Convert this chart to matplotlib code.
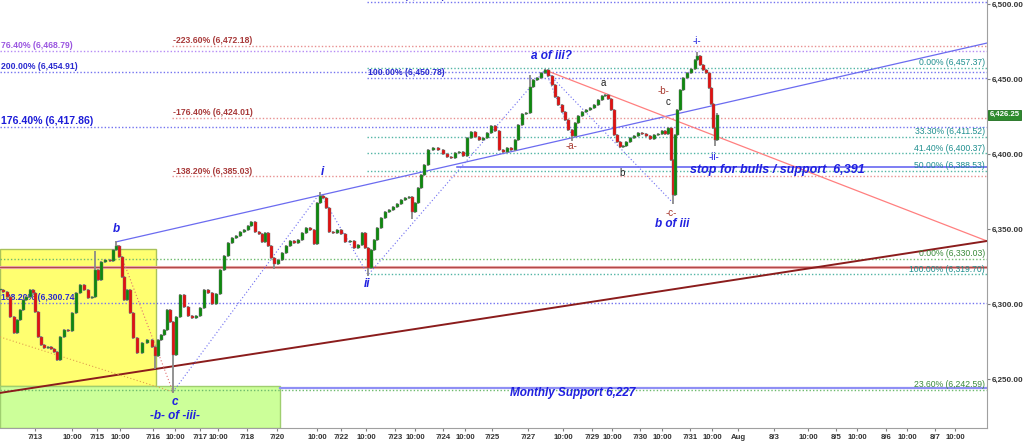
import matplotlib.pyplot as plt
from matplotlib.patches import Rectangle
from matplotlib.transforms import blended_transform_factory

plt.rcParams['font.family'] = ['Liberation Sans', 'DejaVu Sans']

# timeline in chart slots (sessions compressed), closing prices per bar
bar_t = [0, 3, 7, 10, 14, 17, 20, 23, 26, 30, 33, 35,
         38, 41, 44, 48, 51, 54, 57, 60, 64, 68, 72, 76, 80, 84, 88, 92, 95, 98,
         101, 105, 110, 113, 116, 119, 122, 124, 127, 130, 133, 137, 142, 147,
         152, 155, 158, 161, 164, 167, 170, 173, 176, 180, 184, 188, 192, 196,
         200, 204, 208, 212, 216, 220, 224, 228, 232, 236, 240, 244, 248, 251,
         255, 259, 262, 265, 268, 271, 274, 278, 282, 286, 290, 294, 298, 302,
         306, 310, 314, 317, 320, 323, 326, 329, 333, 337, 341, 345, 350, 354,
         358, 362, 365, 368, 371, 374, 377, 381, 385, 389, 393, 397, 401, 405,
         409, 412, 415, 418, 421, 424, 428, 433, 438, 443, 447, 451, 455, 459,
         463, 467, 471, 475, 479, 483, 487, 491, 495, 499, 503, 507, 511, 515,
         518, 522, 526,
         530, 533, 537, 541, 545, 548, 552, 555, 558, 562, 565, 568, 572, 575,
         578, 582, 586, 590, 594, 598, 602, 605, 608, 611, 614, 617, 620, 623,
         626, 630, 634, 638, 642, 646, 650, 654, 658, 662, 665, 668, 671, 673,
         675, 677, 680, 683, 687, 691, 695, 697, 700, 703, 706, 709, 711, 713,
         715, 717]
bar_close = [6309.4, 6308.0, 6304.7, 6291.4, 6280.7, 6289.4, 6296.0, 6302.7, 6304.7, 6309.4, 6307.4, 6294.7,
             6278.0, 6272.7, 6270.7, 6271.4, 6270.0, 6268.0, 6262.7, 6278.0, 6282.7, 6282.0, 6294.0, 6307.4,
             6312.7, 6309.4, 6304.0, 6304.7, 6322.7, 6316.0,
             6328.0, 6329.4, 6328.7, 6336.0, 6338.7, 6331.4, 6318.0, 6302.7, 6309.4, 6294.0, 6277.4, 6267.4,
             6274.0, 6276.0, 6271.4, 6265.4, 6276.0, 6279.4, 6282.7, 6296.0, 6288.0, 6266.0, 6291.4, 6306.0,
             6298.0, 6292.0, 6290.7, 6292.0, 6297.4, 6309.4, 6307.4, 6300.0, 6306.7, 6322.7, 6332.0, 6340.7,
             6344.0, 6345.4, 6348.0, 6349.4, 6352.0, 6354.7, 6348.0, 6346.7, 6341.4, 6347.4, 6338.7, 6330.7,
             6326.7, 6329.4, 6334.0, 6338.7, 6342.0, 6340.7, 6342.7, 6347.4, 6350.7, 6349.4, 6340.0, 6367.4,
             6372.0, 6370.7, 6364.0, 6348.0, 6347.4, 6349.4, 6346.7, 6341.4, 6342.0, 6337.4, 6339.4, 6347.4,
             6337.4, 6324.0, 6336.0, 6342.7, 6350.7, 6357.4, 6361.4, 6362.7, 6364.7, 6366.7, 6369.4, 6370.7,
             6371.4, 6361.4, 6367.4, 6377.4, 6386.0, 6392.7, 6402.7, 6404.0, 6402.7, 6400.0, 6398.0, 6397.4,
             6400.7, 6401.4, 6398.7, 6410.7, 6414.7, 6411.4, 6409.4, 6410.7, 6414.0, 6418.7, 6415.4, 6402.7,
             6401.4, 6404.0, 6402.7, 6409.4, 6419.4, 6426.7, 6427.4,
             6444.7, 6449.4, 6450.7, 6454.0, 6456.0, 6452.0, 6446.0, 6438.0, 6432.7, 6428.0, 6422.7, 6416.0,
             6412.0, 6420.7, 6425.4, 6428.0, 6429.4, 6430.7, 6432.7, 6436.0, 6438.7, 6439.4, 6436.7, 6429.4,
             6412.7, 6408.0, 6404.7, 6405.4, 6408.0, 6410.7, 6412.0, 6414.0, 6413.4, 6412.0, 6410.0, 6412.7,
             6413.4, 6415.4, 6413.4, 6417.4, 6396.0, 6372.7, 6412.7, 6429.4, 6442.7, 6450.7, 6454.0, 6456.7,
             6462.7, 6465.4, 6459.4, 6456.0, 6454.0, 6444.0, 6433.4, 6417.4, 6409.4, 6426.25]

# long wicks
high_t = [95, 116, 320, 530, 697]
high_p = [6334.7, 6341.4, 6374.0, 6452.0, 6467.0]
low_t = [155, 173, 274, 368, 412, 572, 673, 715]
low_p = [6257.4, 6241.4, 6324.0, 6319.4, 6357.4, 6409.4, 6367.4, 6406.0]

# fibonacci levels
fib_labels = ['161.80% (6,501.62)', '-223.60% (6,472.18)', '76.40% (6,468.79)', '0.00% (6,457.37)',
              '200.00% (6,454.91)', '100.00% (6,450.78)', '-176.40% (6,424.01)', '176.40% (6,417.86)',
              '33.30% (6,411.52)', '41.40% (6,400.37)', '50.00% (6,388.53)', '-138.20% (6,385.03)',
              '0.00% (6,330.03)', '100.00% (6,319.70)', '138.20% (6,300.74)', '23.60% (6,242.59)']
fib_values = [6501.62, 6472.18, 6468.79, 6457.37, 6454.91, 6450.78, 6424.01, 6417.86,
              6411.52, 6400.37, 6388.53, 6385.03, 6330.03, 6319.70, 6300.74, 6242.59]
fib_start = [367, 172, 0, 367, 0, 367, 172, 0, 367, 367, 367, 172, 0, 367, 0, 0]
fib_kind = ['blue', 'red', 'purple', 'teal', 'blue', 'blue', 'red', 'bigblue',
            'teal', 'teal', 'teal', 'red', 'green', 'teal', 'blue', 'green']

# trend lines (slot, price) pairs
blue_trend = ([116, 987], [6341.4, 6474.0])
red_trend = ([545, 987], [6456.0, 6342.0])
maroon_trend = ([0, 987], [6240.7, 6342.0])
wave_path = ([173, 320, 368, 545, 673], [6241.4, 6374.0, 6319.4, 6456.0, 6367.4])
bc_leg = ([116, 173], [6341.4, 6241.4])
orange_leg = ([0, 173], [6278.0, 6241.4])

stop_level = 6391.5
monthly_level = 6244.0
red_level = 6324.9
last_price = 6426.25

yticks = [6250, 6300, 6350, 6400, 6450, 6500]
xtick_pos = [35, 72, 97, 120, 153, 175, 200, 218, 247, 277, 317, 341, 366, 395, 415, 443, 465, 492,
             528, 563, 592, 612, 640, 662, 690, 712, 738, 774, 808, 836, 857, 886, 907, 935, 955]
xtick_lab = ['7/13', '10:00', '7/15', '10:00', '7/16', '10:00', '7/17', '10:00', '7/18', '7/20',
             '10:00', '7/22', '10:00', '7/23', '10:00', '7/24', '10:00', '7/25', '7/27', '10:00',
             '7/29', '10:00', '7/30', '10:00', '7/31', '10:00', 'Aug', '8/3', '10:00', '8/5',
             '10:00', '8/6', '10:00', '8/7', '10:00']

fig = plt.figure(figsize=(10.24, 4.42), dpi=100)
ax = fig.add_axes([0, 14 / 442, 987 / 1024, 428 / 442])
ax.set_xlim(0, 987)
ax.set_ylim(6217.3, 6502.7)

# shaded zones
ax.add_patch(Rectangle((0, 6245.4), 156, 91.3, facecolor='#ffff70', edgecolor='#a9c25a', lw=1, zorder=1))
ax.add_patch(Rectangle((0, 6217.3), 280, 28.1, facecolor='#ccff99', edgecolor='#9fcf6f', lw=1, zorder=1.1))

line_col = {'blue': '#7373f0', 'bigblue': '#7373f0', 'red': '#e89090', 'purple': '#b58af5',
            'teal': '#52b5a5', 'green': '#6dba6d'}
text_col = {'blue': '#2a2ad0', 'bigblue': '#1c1cd8', 'red': '#a83a3a', 'purple': '#9a55e0',
            'teal': '#1f8f8f', 'green': '#3a8a3a'}

for lab, val, x0, kind in zip(fib_labels, fib_values, fib_start, fib_kind):
    ax.plot([x0, 987], [val, val], ls=(0, (1, 1.5)), color=line_col[kind], lw=1, zorder=2)
    if kind in ('teal', 'green'):
        ax.text(985, val + 0.6, lab, ha='right', va='bottom', fontsize=6.2, color=text_col[kind],
                zorder=3)
    else:
        size = 7.6 if kind == 'bigblue' else 6.2
        ax.text(x0 + 1, val + 0.6, lab, ha='left', va='bottom', fontsize=size, fontweight='bold',
                color=text_col[kind], zorder=3, clip_on=False)

# solid horizontals
ax.plot([0, 987], [red_level, red_level], color='#e6a0a0', lw=2.2, zorder=2)
ax.plot([0, 987], [red_level, red_level], color='#b04848', lw=0.7, zorder=2)
ax.plot([457, 987], [stop_level, stop_level], color='#5a5af0', lw=1.1, zorder=2)
ax.plot([280, 987], [monthly_level, monthly_level], color='#8f8ff5', lw=1.6, zorder=2)

# trend lines
ax.plot(*blue_trend, color='#6b6bf0', lw=0.9, zorder=2.5)
ax.plot(*red_trend, color='#ff7f7f', lw=0.9, zorder=2.5)
ax.plot(*maroon_trend, color='#8b1c1c', lw=1.4, zorder=2.5)
ax.plot(*wave_path, color='#6b6bf0', lw=0.8, ls=(0, (1, 2)), zorder=2.5)
ax.plot(*bc_leg, color='#e07070', lw=0.8, ls=(0, (1, 2)), zorder=2.5)
ax.plot(*orange_leg, color='#e0a050', lw=0.8, ls=(0, (1, 2)), zorder=2.5)
ax.plot([545, 572], [6456.0, 6412.0], color='#6b6bf0', lw=0.8, ls=(0, (1, 2)), zorder=2.5)

# candles
bar_open = [bar_close[0]] + bar_close[:-1]
hi_map = dict(zip(high_t, high_p))
lo_map = dict(zip(low_t, low_p))
for t, o, c in zip(bar_t, bar_open, bar_close):
    top, bot = max(o, c), min(o, c)
    ax.vlines(t, min(bot, lo_map.get(t, bot)) - 0.8, max(top, hi_map.get(t, top)) + 0.8,
              color='#8a8a8a', lw=1.3, zorder=4)
    ax.bar(t, max(top - bot, 0.8), bottom=bot, width=3.0, color='#0d8a0d' if c >= o else '#e41010',
           edgecolor='#707070', linewidth=0.3, zorder=5)

# wave labels
wave = dict(fontsize=8.5, fontweight='bold', fontstyle='italic', color='#2020e0', ha='center',
            va='center', zorder=6)
ax.text(116, 6350.0, 'b', **wave)
ax.text(175, 6234.7, 'c', **wave)
ax.text(175, 6225.4, '-b- of -iii-', **wave)
ax.text(322, 6388.0, 'i', **wave)
ax.text(367, 6313.4, 'ii', **wave)
ax.text(551, 6465.4, 'a of iii?', **wave)
ax.text(672, 6353.4, 'b of iii', **wave)
ax.text(697, 6475.4, '-i-', fontsize=7, color='#2020e0', ha='center', va='center', zorder=6)
ax.text(714, 6398.0, '-ii-', fontsize=7, color='#2020e0', ha='center', va='center', zorder=6)
for x, y, s in [(572, 6405.4, '-a-'), (663, 6442.0, '-b-'), (671, 6360.7, '-c-')]:
    ax.text(x, y, s, fontsize=7, color='#a83a30', ha='center', va='center', zorder=6)
for x, y, s in [(603, 6447.4, 'a'), (622, 6387.4, 'b'), (668, 6434.7, 'c')]:
    ax.text(x, y, s, fontsize=7, color='#222222', ha='center', va='center', zorder=6)
ax.text(690, 6389.2, 'stop for bulls / support  6,391', fontsize=9, fontweight='bold',
        fontstyle='italic', color='#2020e0', ha='left', va='center', zorder=6)
ax.text(510, 6240.5, 'Monthly Support 6,227', fontsize=8.5, fontweight='bold', fontstyle='italic',
        color='#2020e0', ha='left', va='center', zorder=6)

# axes styling
for side in ('top', 'left'):
    ax.spines[side].set_visible(False)
ax.spines['right'].set_color('#a0a0a0')
ax.spines['bottom'].set_color('#a0a0a0')
ax.yaxis.tick_right()
ax.set_yticks(yticks)
ax.set_yticklabels([f'{v:,.2f}' for v in yticks])
ax.tick_params(axis='y', labelsize=5.8, length=2.5, pad=1, color='#808080')
ax.set_xticks(xtick_pos)
ax.set_xticklabels(xtick_lab)
ax.tick_params(axis='x', labelsize=5.6, length=2.5, pad=1.5, color='#808080')
for lbl in ax.get_xticklabels() + ax.get_yticklabels():
    lbl.set_fontweight('bold')
    lbl.set_color('#333333')

trans = blended_transform_factory(ax.transAxes, ax.transData)
ax.text(1.0025, last_price, f'{last_price:,.2f}', transform=trans, fontsize=5.6, fontweight='bold',
        color='white', ha='left', va='center',
        bbox=dict(boxstyle='square,pad=0.2', facecolor='#2e8b2e', edgecolor='#1f6f1f', lw=0.6))

fig.savefig('out.png', dpi=100)
